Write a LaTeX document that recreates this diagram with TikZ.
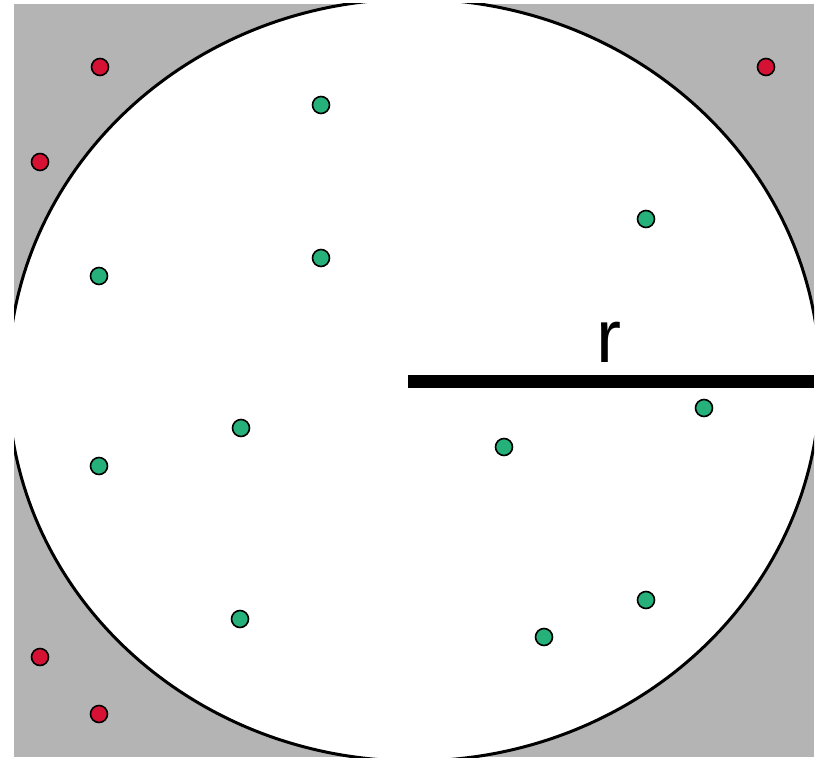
\documentclass[tikz,border=0pt]{standalone}
\usepackage{fontspec}
\setmainfont{Liberation Sans}
\usepackage{tikz}
\definecolor{fieldgray}{RGB}{180,180,180}
\definecolor{outred}{RGB}{214,18,52}
\definecolor{ingreen}{RGB}{38,176,122}
\tikzset{
  outdot/.style={circle, draw=black, fill=outred, line width=1.6pt, minimum size=17pt, inner sep=0pt},
  indot/.style={circle, draw=black, fill=ingreen, line width=1.6pt, minimum size=17pt, inner sep=0pt}
}

\begin{document}
\begin{tikzpicture}[x=1pt,y=-1pt]
    \useasboundingbox (0,0) rectangle (819,759);
    % Draw the square
    \fill[fieldgray] (14,4) rectangle (814,757);
    % disc, clipped by the square
    \begin{scope}
      \clip (14,4) rectangle (814,757);
      \filldraw[fill=white, draw=black, line width=3pt] (414,380) ellipse [x radius=406pt, y radius=381pt];
    \end{scope}
    % radius
    \coordinate (centre) at (408,381);
    \coordinate (rim) at (814,381);
    \draw[line width=13pt] (centre) -- (rim);
    \node[inner sep=0pt, font=\fontsize{75}{75}\selectfont] (rlabel) at (609,342) {r};
    % points outside the disc
    \foreach \px/\py [count=\i] in {100/67, 40/162, 766/67, 40/657, 99/714}
      \node[outdot] (out\i) at (\px,\py) {};
    % points inside the disc
    \foreach \px/\py [count=\i] in {321/105, 646/219, 99/276, 321/258, 241/428, 99/466, 504/447, 704/408, 240/619, 646/600, 544/637}
      \node[indot] (in\i) at (\px,\py) {};
  \end{tikzpicture}
\end{document}
